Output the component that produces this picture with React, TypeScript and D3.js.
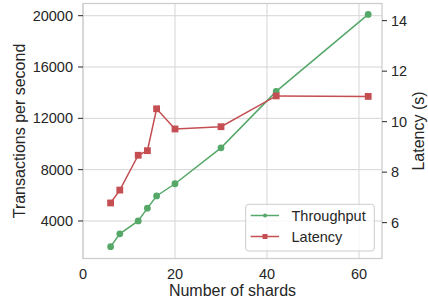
import React from "react";
import * as d3 from "d3";

const shards = [6, 8, 12, 14, 16, 20, 30, 42, 62];
const throughput = [2000, 3000, 4000, 5000, 5950, 6900, 9700, 14100, 20100];
const latency = [6.78, 7.29, 8.67, 8.85, 10.51, 9.71, 9.8, 11.02, 11.0];
const xTicks = [0, 20, 40, 60];
const yLeftTicks = [4000, 8000, 12000, 16000, 20000];
const yRightTicks = [6, 8, 10, 12, 14];
const seriesNames = ["Throughput", "Latency"];

const W = 428;
const H = 305;
const M = { left: 83, right: 382, top: 3.5, bottom: 258.5 };
const GREEN = "#55A868";
const RED = "#C44E52";
const TEXT = "#262626";
const GRID = "#d5d5d5";
const FONT = "'Liberation Sans', Arial, sans-serif";

export default function App() {
  const x = d3.scaleLinear().domain([0, 65]).range([M.left, M.right]);
  const yL = d3.scaleLinear().domain([1075, 20950]).range([M.bottom, M.top]);
  const yR = d3.scaleLinear().domain([4.58, 14.68]).range([M.bottom, M.top]);

  const lineT = d3
    .line<number>()
    .x((_, i) => x(shards[i]))
    .y((d) => yL(d));
  const lineL = d3
    .line<number>()
    .x((_, i) => x(shards[i]))
    .y((d) => yR(d));

  const lg = { x0: 245.7, y0: 204.3, x1: 374.3, y1: 251 };
  const rowY = [215.5, 236.5];

  return (
    <svg
      width={W}
      height={H}
      style={{ position: "absolute", left: 0, top: 0, background: "#fff" }}
      fontFamily={FONT}
    >
      <rect x={0} y={0} width={W} height={H} fill="#fff" />
      {/* grid */}
      {xTicks.map((t) => (
        <line key={"gx" + t} x1={x(t)} x2={x(t)} y1={M.top} y2={M.bottom} stroke={GRID} strokeWidth={1} />
      ))}
      {yLeftTicks.map((t) => (
        <line key={"gy" + t} x1={M.left} x2={M.right} y1={yL(t)} y2={yL(t)} stroke={GRID} strokeWidth={1} />
      ))}
      {/* spines */}
      <rect
        x={M.left}
        y={M.top}
        width={M.right - M.left}
        height={M.bottom - M.top}
        fill="none"
        stroke="#cccccc"
        strokeWidth={1.25}
      />
      {/* left ticks */}
      {yLeftTicks.map((t) => (
        <g key={"yl" + t}>
          <line x1={M.left - 5} x2={M.left} y1={yL(t)} y2={yL(t)} stroke={TEXT} strokeWidth={1} />
          <text x={M.left - 10} y={yL(t)} dy="0.35em" textAnchor="end" fontSize={14.5} fill={TEXT}>
            {t}
          </text>
        </g>
      ))}
      {/* right ticks */}
      {yRightTicks.map((t) => (
        <g key={"yr" + t}>
          <line x1={M.right} x2={M.right + 5} y1={yR(t)} y2={yR(t)} stroke={TEXT} strokeWidth={1} />
          <text x={M.right + 9} y={yR(t)} dy="0.35em" textAnchor="start" fontSize={14.5} fill={TEXT}>
            {t}
          </text>
        </g>
      ))}
      {/* x ticks */}
      {xTicks.map((t) => (
        <text key={"xt" + t} x={x(t)} y={279} textAnchor="middle" fontSize={14.5} fill={TEXT}>
          {t}
        </text>
      ))}
      {/* axis labels */}
      <text x={(M.left + M.right) / 2} y={296} textAnchor="middle" fontSize={16} fill={TEXT}>
        Number of shards
      </text>
      <text
        transform={`translate(19,${(M.top + M.bottom) / 2}) rotate(-90)`}
        textAnchor="middle"
        dy="0.35em"
        fontSize={16}
        fill={TEXT}
      >
        Transactions per second
      </text>
      <text
        transform={`translate(418,${(M.top + M.bottom) / 2}) rotate(-90)`}
        textAnchor="middle"
        dy="0.35em"
        fontSize={16}
        fill={TEXT}
      >
        Latency (s)
      </text>
      {/* throughput */}
      <path d={lineT(throughput) || ""} fill="none" stroke={GREEN} strokeWidth={1.5} />
      {throughput.map((v, i) => (
        <circle key={"tp" + i} cx={x(shards[i])} cy={yL(v)} r={3.4} fill={GREEN} />
      ))}
      {/* latency */}
      <path d={lineL(latency) || ""} fill="none" stroke={RED} strokeWidth={1.5} />
      {latency.map((v, i) => (
        <rect key={"lt" + i} x={x(shards[i]) - 3.4} y={yR(v) - 3.4} width={6.8} height={6.8} fill={RED} />
      ))}
      {/* legend */}
      <rect
        x={lg.x0}
        y={lg.y0}
        width={lg.x1 - lg.x0}
        height={lg.y1 - lg.y0}
        rx={3}
        fill="#fff"
        fillOpacity={0.8}
        stroke="#cccccc"
        strokeWidth={1}
      />
      {seriesNames.map((name, i) => {
        const color = i === 0 ? GREEN : RED;
        const y = rowY[i];
        return (
          <g key={name}>
            <line x1={250.7} x2={279} y1={y} y2={y} stroke={color} strokeWidth={1.5} />
            {i === 0 ? (
              <circle cx={265} cy={y} r={2} fill={color} />
            ) : (
              <rect x={262.5} y={y - 2.5} width={5} height={5} fill={color} />
            )}
            <text x={291.5} y={y} dy="0.35em" fontSize={14.5} fill={TEXT}>
              {name}
            </text>
          </g>
        );
      })}
    </svg>
  );
}
